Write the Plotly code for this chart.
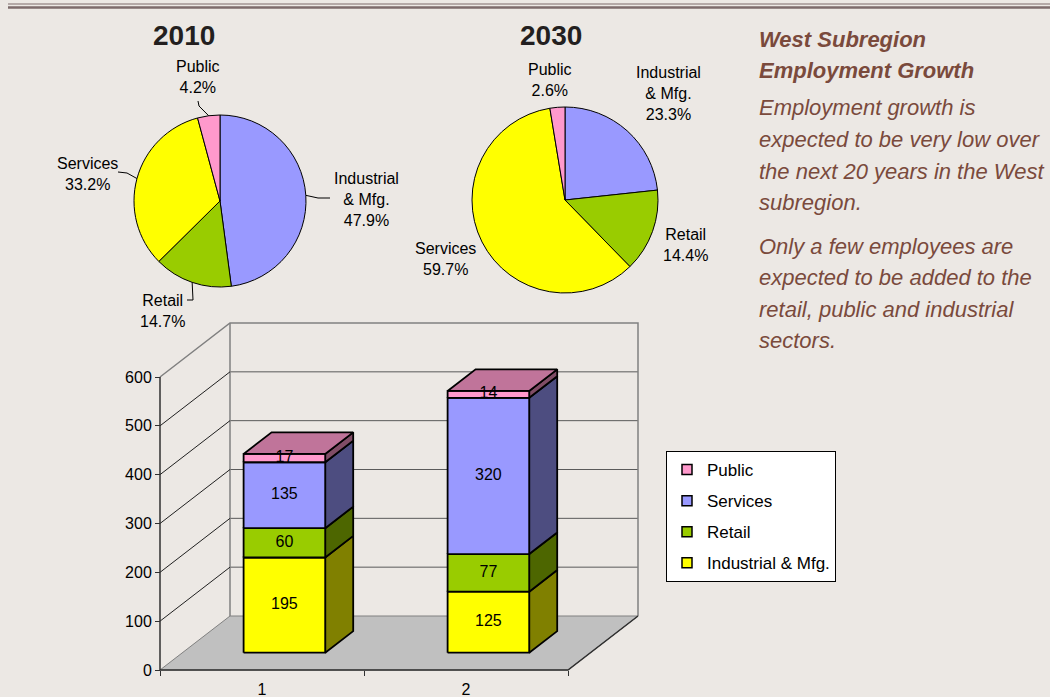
import plotly.graph_objects as go
import math

# ---------------- data ----------------
sectors = ["Industrial & Mfg.", "Retail", "Services", "Public"]
pie_label_text = ["Industrial<br>& Mfg.", "Retail", "Services", "Public"]
share_2010 = [47.9, 14.7, 33.2, 4.2]
share_2030 = [23.3, 14.4, 59.7, 2.6]
pie_titles = ["2010", "2030"]

bar_categories = [1, 2]
industrial = [195, 125]
retail = [60, 77]
services = [135, 320]
public = [17, 14]
y_ticks = [0, 100, 200, 300, 400, 500, 600]

side_text_title = ["West Subregion", "Employment Growth"]
side_text_p1 = ["Employment growth is", "expected to be very low over",
                "the next 20 years in the West", "subregion."]
side_text_p2 = ["Only a few employees are", "expected to be added to the",
                "retail, public and industrial", "sectors."]

# ---------------- style ----------------
W, H = 1050, 697
BG = "#ECE8E4"
FONT = "Liberation Sans, Arial, sans-serif"
TXT = "#7A4A3C"
pie_colors = ["#9999FF", "#99CC00", "#FFFF00", "#FF99CC"]


def px(x):
    return x / W


def py(y):
    return 1 - y / H


fig = go.Figure()

# ---------------- pies ----------------
pie_geom = [dict(cx=220, cy=201, r=86), dict(cx=565, cy=200, r=93)]
for shares, g in zip([share_2010, share_2030], pie_geom):
    fig.add_trace(go.Pie(
        values=shares, labels=sectors, sort=False, direction="clockwise",
        rotation=0, textinfo="none", hoverinfo="skip", showlegend=False,
        marker=dict(colors=pie_colors, line=dict(color="black", width=1)),
        domain=dict(x=[px(g["cx"] - g["r"]), px(g["cx"] + g["r"])],
                    y=[py(g["cy"] + g["r"]), py(g["cy"] - g["r"])]),
    ))

annotations = []
shapes = []

# pie titles
for t, xc in zip(pie_titles, [184, 551]):
    annotations.append(dict(text=f"<b>{t}</b>", x=px(xc), y=py(36), xref="paper", yref="paper",
                            xanchor="center", yanchor="middle", showarrow=False,
                            font=dict(size=28, family=FONT, color="#231F20")))

# pie labels
label_pos = [
    [(366, 200), (162, 311), (87, 174), (198, 77)],
    [(668, 93), (685, 245), (445, 259), (550, 80)],
]
for shares, pos in zip([share_2010, share_2030], label_pos):
    for lab, v, (lx, ly) in zip(pie_label_text, shares, pos):
        annotations.append(dict(text=f"{lab}<br>{v:.1f}%", x=px(lx), y=py(ly), xref="paper", yref="paper",
                                xanchor="center", yanchor="middle", showarrow=False, align="center",
                                font=dict(size=16, family=FONT, color="black")))

# leader lines for the 2010 pie (edge point derived from slice mid-angle)
g = pie_geom[0]
leader_tails = [[(318, 198), (330, 198)], [(193, 300), (187, 300)],
                [(127, 173), (118, 172)], [(199, 106), (198, 101)]]
cum = 0
for v, tail in zip(share_2010, leader_tails):
    mid = (cum + v / 2) / 100 * 2 * math.pi
    cum += v
    ex = g["cx"] + g["r"] * math.sin(mid)
    ey = g["cy"] - g["r"] * math.cos(mid)
    pts = [(ex, ey)] + tail
    path = "M " + " L ".join(f"{px(a)},{py(b)}" for a, b in pts)
    shapes.append(dict(type="path", path=path, xref="paper", yref="paper",
                       line=dict(color="black", width=1)))

# ---------------- 3D stacked bars ----------------
PXU = 293 / 600          # pixels per value unit
DX = 70 / 204            # depth offset in category units
DY = 54 / PXU            # depth offset in value units
F1, F2 = 0.32, 0.72      # bar front/back depth fractions
BW = 0.40                # bar width (category units)
X0, X1 = 0.5, 2.5
YMAX = y_ticks[-1]

wall = "#808080"
grid = "#5A5A5A"


def poly(xs, ys, fill, line="black", width=1.8):
    fig.add_trace(go.Scatter(x=xs, y=ys, mode="lines", fill="toself", fillcolor=fill,
                             line=dict(color=line, width=width), hoverinfo="skip", showlegend=False))


def lines(xs, ys, color, width=1):
    fig.add_trace(go.Scatter(x=xs, y=ys, mode="lines", line=dict(color=color, width=width),
                             hoverinfo="skip", showlegend=False))


# floor
poly([X0, X1, X1 + DX, X0 + DX, X0], [0, 0, DY, DY, 0], "#C0C0C0", wall, 1)
# back wall gridlines
bx, by = [], []
for v in y_ticks[1:-1]:
    bx += [X0 + DX, X1 + DX, None]
    by += [v + DY, v + DY, None]
lines(bx, by, grid, 1)
# back wall frame
lines([X0, X0 + DX, X1 + DX, X1 + DX, None, X0 + DX, X0 + DX],
      [YMAX, YMAX + DY, YMAX + DY, DY, None, DY, YMAX + DY], wall, 1.5)
# side-wall gridlines
lx, ly = [], []
for v in y_ticks[1:-1]:
    lx += [X0, X0 + DX, None]
    ly += [v, v + DY, None]
lines(lx, ly, "#202020", 1)
# front floor edges and axis line
lines([X0, X0, X1, X1 + DX], [YMAX, 0, 0, DY], "#303030", 1.5)

series = [
    ("Industrial & Mfg.", industrial, "#FFFF00", "#808000"),
    ("Retail", retail, "#99CC00", "#4D6600"),
    ("Services", services, "#9999FF", "#4D4D80"),
    ("Public", public, "#FF99CC", "#804D66"),
]
top_color = "#C0749A"

base = [0] * len(bar_categories)
label_x, label_y, label_t = [], [], []
for name, vals, col, side in series:
    sx, sy, fx, fy = [], [], [], []
    for c, b, v in zip(bar_categories, base, vals):
        xl, xr = c - BW / 2, c + BW / 2
        t = b + v
        sx += [xr + F1 * DX, xr + F2 * DX, xr + F2 * DX, xr + F1 * DX, xr + F1 * DX, None]
        sy += [b + F1 * DY, b + F2 * DY, t + F2 * DY, t + F1 * DY, b + F1 * DY, None]
        fx += [xl + F1 * DX, xr + F1 * DX, xr + F1 * DX, xl + F1 * DX, xl + F1 * DX, None]
        fy += [b + F1 * DY, b + F1 * DY, t + F1 * DY, t + F1 * DY, b + F1 * DY, None]
        label_x.append(c + F1 * DX)
        label_y.append(b + v / 2 + F1 * DY)
        label_t.append(str(v))
    poly(sx, sy, side)
    poly(fx, fy, col)
    base = [b + v for b, v in zip(base, vals)]

# top faces
tx, ty = [], []
for c, t in zip(bar_categories, base):
    xl, xr = c - BW / 2, c + BW / 2
    tx += [xl + F1 * DX, xr + F1 * DX, xr + F2 * DX, xl + F2 * DX, xl + F1 * DX, None]
    ty += [t + F1 * DY, t + F1 * DY, t + F2 * DY, t + F2 * DY, t + F1 * DY, None]
poly(tx, ty, top_color)

fig.add_trace(go.Scatter(x=label_x, y=label_y, text=label_t, mode="text",
                         textfont=dict(size=16, family=FONT, color="black"),
                         hoverinfo="skip", showlegend=False))

# legend entries
for name, vals, col, side in reversed(series):
    fig.add_trace(go.Scatter(x=[None], y=[None], mode="markers", name=name, legendgroup=name,
                             marker=dict(symbol="square", size=10, color=col,
                                         line=dict(color="black", width=1.5))))

# ---------------- side text ----------------
for i, line in enumerate(side_text_title):
    annotations.append(dict(text=f"<b><i>{line}</i></b>", x=px(757), y=py(40 + 30 * i),
                            xref="paper", yref="paper", xanchor="left", yanchor="middle",
                            showarrow=False, font=dict(size=22, family=FONT, color=TXT)))
for i, line in enumerate(side_text_p1):
    annotations.append(dict(text=f"<i>{line}</i>", x=px(757), y=py(108 + 31.6 * i),
                            xref="paper", yref="paper", xanchor="left", yanchor="middle",
                            showarrow=False, font=dict(size=22, family=FONT, color=TXT)))
for i, line in enumerate(side_text_p2):
    annotations.append(dict(text=f"<i>{line}</i>", x=px(757), y=py(246 + 31.6 * i),
                            xref="paper", yref="paper", xanchor="left", yanchor="middle",
                            showarrow=False, font=dict(size=22, family=FONT, color=TXT)))

# header rules
shapes.append(dict(type="line", xref="paper", yref="paper", x0=px(8), x1=1, y0=py(4), y1=py(4),
                   line=dict(color="#7D6B6B", width=1)))
shapes.append(dict(type="line", xref="paper", yref="paper", x0=px(8), x1=1, y0=py(7.5), y1=py(7.5),
                   line=dict(color="#7D6B6B", width=2.5)))

# axes geometry (pixels)
XL_PX, XR_PX = 150, 650
YT_PX, YB_PX = 318, 680
x_range = [X0 - (160 - XL_PX) / 204, X0 + (XR_PX - 160) / 204]
y_range = [-(YB_PX - 670) / PXU, (670 - YT_PX) / PXU]

fig.update_layout(
    width=W, height=H, margin=dict(l=0, r=0, t=0, b=0),
    paper_bgcolor=BG, plot_bgcolor=BG, hovermode=False,
    annotations=annotations, shapes=shapes,
    font=dict(family=FONT, color="black"),
    xaxis=dict(domain=[px(XL_PX), px(XR_PX)], range=x_range, anchor="free", position=py(670),
               tickmode="array", tickvals=bar_categories, ticktext=[str(c) for c in bar_categories],
               ticks="", showgrid=False, zeroline=False, showline=False, ticklabelstandoff=8,
               tickfont=dict(size=16, family=FONT, color="black"),
               minor=dict(tickvals=[X0, 1.5, X1], ticks="outside", ticklen=5,
                          tickcolor="#303030", tickwidth=1, showgrid=False)),
    yaxis=dict(domain=[py(YB_PX), py(YT_PX)], range=y_range, anchor="free", position=px(160),
               tickmode="array", tickvals=y_ticks, ticks="outside", ticklen=5,
               tickcolor="#303030", showgrid=False, zeroline=False, showline=False,
               tickfont=dict(size=16, family=FONT, color="black")),
    legend=dict(x=px(666), y=py(451), xanchor="left", yanchor="top", bgcolor="white",
                bordercolor="black", borderwidth=1, traceorder="grouped", tracegroupgap=6,
                font=dict(size=17, family=FONT, color="black")),
)

fig.write_html("out.html")
